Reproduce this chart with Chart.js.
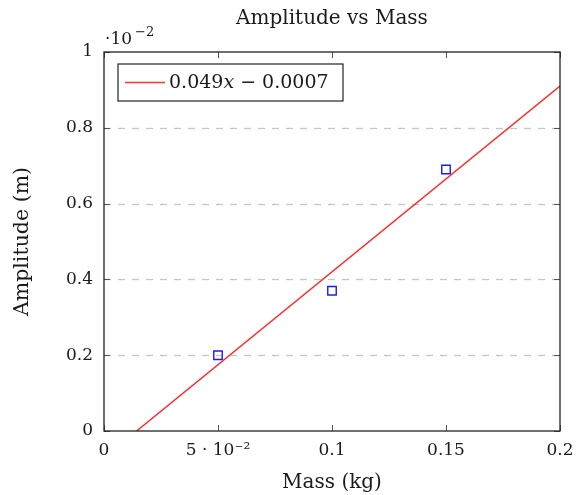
<!DOCTYPE html>
<html>
<head>
<meta charset="utf-8">
<script src="https://cdn.jsdelivr.net/npm/chart.js@4/dist/chart.umd.min.js"></script>
<style>
  html, body { margin: 0; padding: 0; background: #fff; }
  #wrap { width: 578px; height: 495px; }
</style>
</head>
<body>
<div id="wrap"><canvas id="myChart"></canvas></div>
<script>
// data (amplitude shown in units of 10^-2 m)
const massKg = [0.05, 0.1, 0.15];
const amplitude = [0.2, 0.37, 0.69];
// fitted line 0.049x - 0.0007, end points
const fitX = [0.0143, 0.2];
const fitY = [0, 0.91];
const xTicks = [0, 0.05, 0.1, 0.15, 0.2];
const xTickLabels = ["0", "5 \u00b7 10\u207b\u00b2", "0.1", "0.15", "0.2"];
const yTicks = [0, 0.2, 0.4, 0.6, 0.8, 1];
const yTickLabels = ["0", "0.2", "0.4", "0.6", "0.8", "1"];
const legendText = "0.049x \u2212 0.0007";
const chartTitle = "Amplitude vs Mass";

const serif = "'DejaVu Serif', 'Liberation Serif', serif";
const ink = "#1a1a1a";

// dashed grid + inner ticks, drawn under the data
const gridPlugin = {
  id: "gridPlugin",
  beforeDatasetsDraw(chart) {
    const ctx = chart.ctx, a = chart.chartArea;
    const xs = chart.scales.x, ys = chart.scales.y;
    ctx.save();
    ctx.strokeStyle = "#c6c6c6";
    ctx.lineWidth = 1.3;
    ctx.setLineDash([7, 7]);
    for (let i = 1; i < yTicks.length - 1; i++) {
      const py = Math.round(ys.getPixelForValue(yTicks[i])) + 0.5;
      ctx.beginPath();
      ctx.moveTo(a.left, py);
      ctx.lineTo(a.right, py);
      ctx.stroke();
    }
    ctx.setLineDash([]);
    ctx.strokeStyle = "#555";
    ctx.lineWidth = 1;
    for (let i = 0; i < xTicks.length; i++) {
      const px = Math.round(xs.getPixelForValue(xTicks[i])) + 0.5;
      ctx.beginPath();
      ctx.moveTo(px, a.bottom); ctx.lineTo(px, a.bottom - 6);
      ctx.moveTo(px, a.top); ctx.lineTo(px, a.top + 6);
      ctx.stroke();
    }
    for (let i = 0; i < yTicks.length; i++) {
      const py = Math.round(ys.getPixelForValue(yTicks[i])) + 0.5;
      ctx.beginPath();
      ctx.moveTo(a.left, py); ctx.lineTo(a.left + 6, py);
      ctx.moveTo(a.right, py); ctx.lineTo(a.right - 6, py);
      ctx.stroke();
    }
    ctx.restore();
  },
  afterDraw(chart) {
    const ctx = chart.ctx, a = chart.chartArea;
    ctx.save();
    // frame
    ctx.strokeStyle = "#222";
    ctx.lineWidth = 1.3;
    ctx.strokeRect(a.left, a.top, a.right - a.left, a.bottom - a.top);
    // title, centred over the plot box
    ctx.fillStyle = ink;
    ctx.textAlign = "center";
    ctx.textBaseline = "middle";
    ctx.font = "20px " + serif;
    ctx.fillText(chartTitle, (a.left + a.right) / 2, 19);
    // scale factor label
    ctx.textAlign = "left";
    ctx.textBaseline = "alphabetic";
    ctx.font = "17px " + serif;
    ctx.fillText("\u00b710", a.left + 1, a.top - 8);
    ctx.font = "13px " + serif;
    ctx.fillText("\u22122", a.left + 31, a.top - 16);
    // legend box
    const bx = a.left + 14, by = a.top + 12, bw = 225, bh = 37;
    ctx.fillStyle = "#fff";
    ctx.fillRect(bx, by, bw, bh);
    ctx.strokeStyle = "#222";
    ctx.lineWidth = 1.2;
    ctx.strokeRect(bx, by, bw, bh);
    ctx.strokeStyle = "#ff3333";
    ctx.lineWidth = 1.5;
    ctx.beginPath();
    ctx.moveTo(bx + 7, by + bh / 2);
    ctx.lineTo(bx + 47, by + bh / 2);
    ctx.stroke();
    ctx.fillStyle = ink;
    ctx.font = "19px " + serif;
    ctx.textBaseline = "middle";
    const parts = legendText.split("x");
    let tx = bx + 51;
    ctx.fillText(parts[0], tx, by + bh / 2 + 1);
    tx += ctx.measureText(parts[0]).width;
    ctx.font = "italic 19px " + serif;
    ctx.fillText("x", tx, by + bh / 2 + 1);
    tx += ctx.measureText("x").width;
    ctx.font = "19px " + serif;
    ctx.fillText(parts[1], tx, by + bh / 2 + 1);
    ctx.restore();
  }
};

new Chart(document.getElementById("myChart"), {
  type: "scatter",
  data: {
    datasets: [
      {
        label: legendText,
        data: fitX.map((x, i) => ({ x: x, y: fitY[i] })),
        showLine: true,
        borderColor: "#ff2a2a",
        borderWidth: 1.5,
        pointRadius: 0,
        pointHoverRadius: 0,
      },
      {
        label: "data",
        data: massKg.map((x, i) => ({ x: x, y: amplitude[i] })),
        showLine: false,
        pointStyle: "rect",
        pointRadius: 6,
        pointBorderColor: "#1a1aff",
        pointBackgroundColor: "rgba(0,0,0,0)",
        pointBorderWidth: 1.4,
      },
    ],
  },
  options: {
    responsive: true,
    maintainAspectRatio: false,
    animation: false,
    events: [],
    layout: { padding: { left: 0, right: 18, top: 52, bottom: 0 } },
    plugins: {
      legend: { display: false },
      tooltip: { enabled: false },
      title: { display: false },
    },
    scales: {
      x: {
        type: "linear",
        min: 0,
        max: 0.2,
        afterBuildTicks: (s) => { s.ticks = xTicks.map((v) => ({ value: v })); },
        afterFit: (s) => { s.height = 64; s.paddingLeft = 0; s.paddingRight = 0; },
        ticks: {
          color: ink,
          font: { family: serif, size: 17 },
          padding: 9,
          maxRotation: 0,
          callback: (v, i) => xTickLabels[i],
        },
        grid: { display: false, drawTicks: false },
        border: { display: false },
        title: {
          display: true,
          text: "Mass (kg)",
          color: ink,
          font: { family: serif, size: 20 },
          padding: { top: 6, bottom: 0 },
        },
      },
      y: {
        type: "linear",
        min: 0,
        max: 1,
        afterBuildTicks: (s) => { s.ticks = yTicks.map((v) => ({ value: v })); },
        afterFit: (s) => { s.width = 104; s.paddingTop = 0; s.paddingBottom = 0; },
        ticks: {
          color: ink,
          font: { family: serif, size: 17 },
          padding: 11,
          callback: (v, i) => yTickLabels[i],
        },
        grid: { display: false, drawTicks: false },
        border: { display: false },
        title: {
          display: true,
          text: "Amplitude (m)",
          color: ink,
          font: { family: serif, size: 20.5 },
          padding: { top: 10, bottom: 0 },
        },
      },
    },
  },
  plugins: [gridPlugin],
});
</script>
</body>
</html>
